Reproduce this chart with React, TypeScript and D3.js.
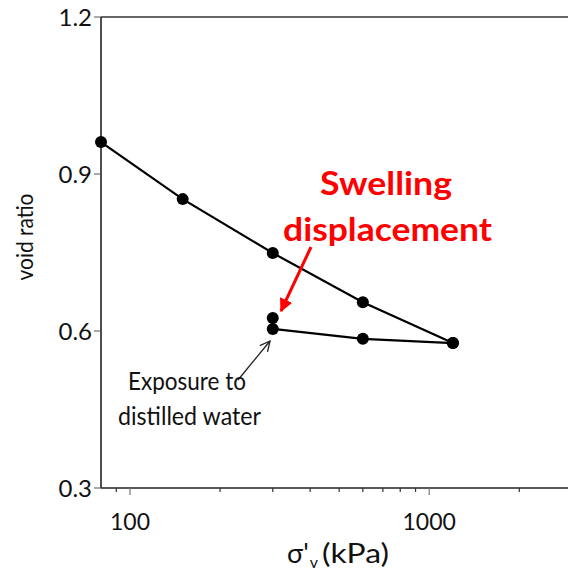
import React from "react";
import * as d3 from "d3";

// Consolidation test: void ratio vs effective vertical stress
const loadingStress = [80, 150, 300, 600, 1200];
const loadingVoid = [0.961, 0.852, 0.749, 0.655, 0.577];
const unloadingStress = [1200, 600, 300];
const unloadingVoid = [0.577, 0.585, 0.604];
const swellStress = [300];
const swellVoid = [0.625];

const yTicks = [0.3, 0.6, 0.9, 1.2];
const xMajorTicks = [100, 1000];
const xMinorTicks = [90, 200, 300, 400, 500, 600, 700, 800, 900, 2000];

const W = 568;
const H = 579;
const FONT = "Lato, 'Open Sans', sans-serif";

export default function App() {
  const x = d3.scaleLog().domain([80, 3000]).range([101, 572]);
  const y = d3.scaleLinear().domain([0.3, 1.2]).range([488, 17]);

  const line = d3
    .line<[number, number]>()
    .x((d) => x(d[0]))
    .y((d) => y(d[1]));

  const loadPts: [number, number][] = loadingStress.map((s, i) => [s, loadingVoid[i]]);
  const unloadPts: [number, number][] = unloadingStress.map((s, i) => [s, unloadingVoid[i]]);
  const swellPts: [number, number][] = swellStress.map((s, i) => [s, swellVoid[i]]);
  const allPts = [...loadPts, ...unloadPts, ...swellPts];

  const [x0, x1] = x.range();
  const [yb, yt] = y.range();

  return (
    <svg
      width={W}
      height={H}
      style={{ position: "absolute", left: 0, top: 0, background: "#fff" }}
      fontFamily={FONT}
    >
      <defs>
        <marker
          id="redHead"
          viewBox="0 0 10 10"
          refX="9"
          refY="5"
          markerWidth="4.5"
          markerHeight="4.5"
          orient="auto"
          markerUnits="strokeWidth"
        >
          <path d="M0,0 L10,5 L0,10 z" fill="#ff0000" />
        </marker>
        <marker
          id="openHead"
          viewBox="0 0 12 12"
          refX="11"
          refY="6"
          markerWidth="12"
          markerHeight="12"
          orient="auto"
          markerUnits="userSpaceOnUse"
        >
          <path d="M1,1 L11,6 L1,11" fill="none" stroke="#222" strokeWidth="1.3" />
        </marker>
      </defs>

      {/* plot frame */}
      <line x1={x0} x2={x1} y1={yt} y2={yt} stroke="#333" strokeWidth={1.6} />
      <line x1={x1} x2={x1} y1={yt} y2={yb} stroke="#333" strokeWidth={1.6} />
      <line x1={x0} x2={x0} y1={yt} y2={yb} stroke="#222" strokeWidth={1.6} />
      <line x1={x0} x2={x1} y1={yb} y2={yb} stroke="#222" strokeWidth={1.6} />

      {/* y axis ticks and labels */}
      {yTicks.map((t) => (
        <g key={t}>
          <line x1={x0 - 7} x2={x0} y1={y(t)} y2={y(t)} stroke="#555" strokeWidth={1} />
          <text x={x0 - 9} y={y(t)} dy="0.36em" textAnchor="end" fontSize={24} fill="#111">
            {d3.format(".1f")(t)}
          </text>
        </g>
      ))}

      {/* x axis ticks and labels */}
      {xMinorTicks.map((t) => (
        <line key={t} x1={x(t)} x2={x(t)} y1={yb} y2={yb + 4} stroke="#333" strokeWidth={1.2} />
      ))}
      {xMajorTicks.map((t) => (
        <g key={t}>
          <line x1={x(t)} x2={x(t)} y1={yb} y2={yb + 7} stroke="#777" strokeWidth={1.2} />
          <text x={x(t)} y={530} textAnchor="middle" fontSize={23} fill="#111">
            {t}
          </text>
        </g>
      ))}

      {/* axis titles */}
      <text
        transform={`translate(33, 237) rotate(-90)`}
        textAnchor="middle"
        fontSize={23}
        fill="#111"
        textLength={87}
        lengthAdjust="spacingAndGlyphs"
      >
        void ratio
      </text>
      <g fill="#111">
        <text x={287} y={563} fontSize={27}>
          σ'
          <tspan fontSize={16} dx={1} dy={5}>v</tspan>
          <tspan fontSize={26} dx={4} dy={-5} textLength={67} lengthAdjust="spacingAndGlyphs">
            (kPa)
          </tspan>
        </text>
      </g>

      {/* data lines */}
      <path d={line(loadPts) || ""} fill="none" stroke="#000" strokeWidth={2.2} />
      <path d={line(unloadPts) || ""} fill="none" stroke="#000" strokeWidth={2.2} />

      {/* data points */}
      {allPts.map((p, i) => (
        <circle key={i} cx={x(p[0])} cy={y(p[1])} r={6} fill="#000" />
      ))}

      {/* annotations */}
      <text
        x={320}
        y={195}
        fontSize={33}
        fontWeight="bold"
        fill="#ff0000"
        textLength={132}
        lengthAdjust="spacingAndGlyphs"
      >
        Swelling
      </text>
      <text
        x={283}
        y={241}
        fontSize={33}
        fontWeight="bold"
        fill="#ff0000"
        textLength={209}
        lengthAdjust="spacingAndGlyphs"
      >
        displacement
      </text>
      <line
        x1={311}
        y1={247}
        x2={281}
        y2={311}
        stroke="#ff0000"
        strokeWidth={3}
        markerEnd="url(#redHead)"
      />

      <line
        x1={238}
        y1={380}
        x2={270}
        y2={341}
        stroke="#222"
        strokeWidth={1.3}
        markerEnd="url(#openHead)"
      />
      <text
        x={128}
        y={390}
        fontSize={25}
        fill="#111"
        textLength={118}
        lengthAdjust="spacingAndGlyphs"
      >
        Exposure to
      </text>
      <text
        x={118}
        y={425}
        fontSize={25}
        fill="#111"
        textLength={143}
        lengthAdjust="spacingAndGlyphs"
      >
        distilled water
      </text>
    </svg>
  );
}
